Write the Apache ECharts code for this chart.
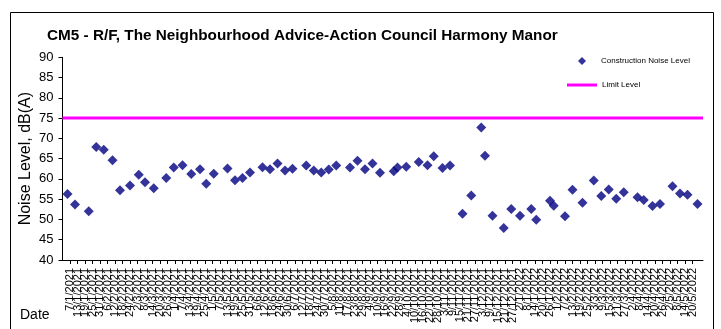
<!DOCTYPE html>
<html>
<head>
<meta charset="utf-8">
<script src="https://cdn.jsdelivr.net/npm/echarts@6/dist/echarts.min.js"></script>
<style>
  html, body { margin: 0; padding: 0; background: #fff; }
  #chart { width: 721px; height: 329px; }
</style>
</head>
<body>
<div id="chart"></div>
<script>
// Monitoring dates (CM5) and measured construction noise, dB(A)
const sampleDates = [
  '2021-01-05','2021-01-11','2021-01-22','2021-01-28','2021-02-03','2021-02-10','2021-02-16','2021-02-24',
  '2021-03-03','2021-03-08','2021-03-15','2021-03-25','2021-03-31','2021-04-07','2021-04-14','2021-04-21',
  '2021-04-26','2021-05-02','2021-05-13','2021-05-19','2021-05-25','2021-05-31','2021-06-10','2021-06-16',
  '2021-06-22','2021-06-28','2021-07-04','2021-07-15','2021-07-21','2021-07-27','2021-08-02','2021-08-08',
  '2021-08-19','2021-08-25','2021-08-31','2021-09-06','2021-09-12','2021-09-23','2021-09-26','2021-10-03',
  '2021-10-13','2021-10-20','2021-10-25','2021-11-01','2021-11-07','2021-11-17','2021-11-24','2021-12-02',
  '2021-12-05','2021-12-11','2021-12-20','2021-12-26','2022-01-02','2022-01-11','2022-01-15','2022-01-26',
  '2022-01-29','2022-02-07','2022-02-13','2022-02-21','2022-03-02','2022-03-08','2022-03-14','2022-03-20',
  '2022-03-26','2022-04-06','2022-04-11','2022-04-18','2022-04-24','2022-05-04','2022-05-10','2022-05-16',
  '2022-05-24'
];
const noiseLevels = [
  56.3, 53.7, 52.0, 67.9, 67.2, 64.6, 57.2, 58.4,
  61.0, 59.2, 57.7, 60.2, 62.8, 63.4, 61.2, 62.4,
  58.8, 61.3, 62.6, 59.7, 60.2, 61.6, 62.9, 62.4,
  63.8, 62.1, 62.5, 63.3, 62.1, 61.6, 62.3, 63.3,
  62.8, 64.5, 62.4, 63.8, 61.5, 61.9, 62.8, 63.0,
  64.2, 63.4, 65.6, 62.7, 63.3, 51.4, 55.9, 72.7,
  65.7, 50.9, 47.9, 52.6, 50.9, 52.6, 49.9, 54.6,
  53.4, 50.8, 57.3, 54.1, 59.6, 55.8, 57.4, 55.1,
  56.7, 55.5, 54.8, 53.3, 53.8, 58.2, 56.4, 56.1,
  53.8
];
const limitLevel = 75;

// Date axis settings: day 0 is the first tick date, one tick every 6 days
const axisStartDate = '2021-01-01';
const tickStepDays = 6;
const lastTickDay = 510;
const axisEndDay = 512.4;

const DAY_MS = 86400000;
const [sy, sm, sd] = axisStartDate.split('-').map(Number);
const t0 = Date.UTC(sy, sm - 1, sd);
function dayIndex(s) {
  const [y, m, d] = s.split('-').map(Number);
  return Math.round((Date.UTC(y, m - 1, d) - t0) / DAY_MS);
}
function dayLabel(day) {
  const dt = new Date(t0 + day * DAY_MS);
  return dt.getUTCDate() + '/' + (dt.getUTCMonth() + 1) + '/' + dt.getUTCFullYear();
}
const tickDays = [];
for (let d = 0; d <= lastTickDay; d += tickStepDays) tickDays.push(d);

const FONT = "'Liberation Sans', Arial, sans-serif";

const chart = echarts.init(document.getElementById('chart'), null, { renderer: 'canvas' });
chart.setOption({
  backgroundColor: '#fff',
  animation: false,
  title: {
    text: 'CM5 - R/F, The Neighbourhood Advice-Action Council Harmony Manor',
    left: 47, top: 28, padding: 0,
    textStyle: { fontFamily: FONT, fontSize: 15.3, fontWeight: 'bold', color: '#000' }
  },
  legend: [
    {
      data: [{ name: 'Construction Noise Level', icon: 'diamond' }],
      left: 578, top: 57, padding: 0,
      itemWidth: 8, itemHeight: 8,
      textStyle: { fontFamily: FONT, fontSize: 8, color: '#000', padding: [0, 0, 0, 10] }
    },
    {
      data: [{ name: 'Limit Level', icon: 'rect' }],
      left: 567, top: 81, padding: 0,
      itemWidth: 30, itemHeight: 3,
      textStyle: { fontFamily: FONT, fontSize: 8, color: '#000' }
    }
  ],
  grid: { left: 62.5, right: 18, top: 57.3, bottom: 69, containLabel: false },
  xAxis: {
    type: 'value', min: 0, max: axisEndDay,
    axisLine: { show: true, onZero: false, lineStyle: { color: '#000', width: 1 } },
    axisTick: { show: true, customValues: tickDays, length: 4, lineStyle: { color: '#000' } },
    axisLabel: {
      customValues: tickDays, rotate: 90, margin: 8,
      formatter: v => dayLabel(v),
      fontFamily: FONT, fontSize: 11, color: '#000'
    },
    splitLine: { show: false }
  },
  yAxis: {
    type: 'value', min: 40, max: 90, interval: 5,
    name: 'Noise Level, dB(A)', nameLocation: 'middle', nameGap: 29, nameRotate: 90,
    nameMoveOverlap: false,
    nameTextStyle: { fontFamily: FONT, fontSize: 16, color: '#000' },
    axisLine: { show: true, lineStyle: { color: '#000', width: 1 } },
    axisTick: { show: true, length: 4, lineStyle: { color: '#000' } },
    axisLabel: { fontFamily: FONT, fontSize: 13, color: '#000', margin: 9 },
    splitLine: { show: false }
  },
  graphic: [
    {
      type: 'rect', silent: true, z: -1,
      shape: { x: 10.5, y: 12.5, width: 703, height: 400 },
      style: { fill: 'none', stroke: '#000', lineWidth: 1 }
    },
    {
      type: 'text', left: 20, top: 308,
      style: { text: 'Date', fontFamily: FONT, fontSize: 14, fill: '#000' }
    }
  ],
  series: [
    {
      name: 'Construction Noise Level', type: 'scatter',
      symbol: 'diamond', symbolSize: 10,
      itemStyle: { color: '#000080' },
      data: sampleDates.map((d, i) => [dayIndex(d), noiseLevels[i]])
    },
    {
      name: 'Limit Level', type: 'line',
      symbol: 'none', silent: true,
      lineStyle: { color: '#FF00FF', width: 3 },
      itemStyle: { color: '#FF00FF' },
      data: [[0, limitLevel], [axisEndDay, limitLevel]]
    }
  ]
});
</script>
</body>
</html>
